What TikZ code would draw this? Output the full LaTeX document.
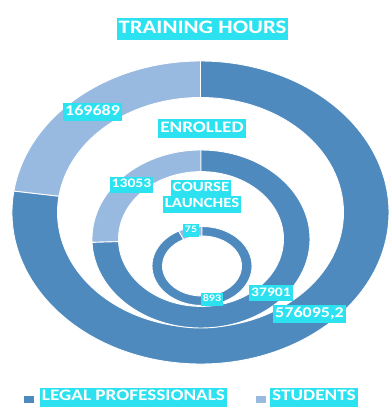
\documentclass[tikz,border=0pt]{standalone}
\usepackage{fontspec}
\newfontfamily\lab{Carlito}[FakeStretch=1.2]
\usetikzlibrary{calc}
\definecolor{darkseg}{RGB}{79,138,190}
\definecolor{lightseg}{RGB}{152,185,224}
\definecolor{labcyan}{RGB}{44,226,240}
\newcommand{\donutseg}[8]{%
  \filldraw[fill=#8, draw=white, line width=0.9pt]
    ($(#1)+(#2:#4pt and #5pt)$)
    arc[start angle=#2, end angle=#3, x radius=#4pt, y radius=#5pt]
    -- ($(#1)+(#3:#6pt and #7pt)$)
    arc[start angle=#3, end angle=#2, x radius=#6pt, y radius=#7pt]
    -- cycle;}
\tikzset{
  lbl/.style={fill=labcyan, text=white, inner xsep=2pt, inner ysep=1.5pt,
    font=\lab\bfseries\fontsize{#1}{#1}\selectfont},
  legsq/.style={fill=#1, minimum width=10pt, minimum height=7pt, inner sep=0pt}
}
\begin{document}
\begin{tikzpicture}[x=1pt,y=1pt]
\fill[white] (0,0) rectangle (391,416);
\useasboundingbox (0,0) rectangle (391,416);
\coordinate (oc) at (200.5,203.5);
\coordinate (mc) at (201,177);
\coordinate (ic) at (202,150);
% outer ring: training hours
\donutseg{oc}{90}{171.9}{188.5}{151.5}{143}{115}{lightseg}
\donutseg{oc}{171.9}{450}{188.5}{151.5}{143}{115}{darkseg}
% middle ring: enrolled
\donutseg{mc}{90}{182.2}{109}{89}{82.5}{67.4}{lightseg}
\donutseg{mc}{182.2}{450}{109}{89}{82.5}{67.4}{darkseg}
% inner ring: course launches
\donutseg{ic}{90}{117.9}{50}{39.5}{39.5}{30}{lightseg}
\donutseg{ic}{117.9}{450}{50}{39.5}{39.5}{30}{darkseg}
% titles
\node[lbl=19] (title) at (202.5,386.5) {\strut TRAINING HOURS};
\node[lbl=16] (enr) at (202,287) {\strut ENROLLED};
\node[lbl=14] (cl1) at (201,227.5) {\strut COURSE};
\node[lbl=14] (cl2) at (202,211.5) {\strut LAUNCHES};
% values
\node[lbl=15] (v1) at (92.5,303.5) {\strut 169689};
\node[lbl=15] (v2) at (309.5,102) {\strut 576095,2};
\node[lbl=13] (v3) at (131.5,231) {\strut 13053};
\node[lbl=13] (v4) at (271,122.5) {\strut 37901};
\node[lbl=10] (v5) at (191,185) {\strut 75};
\node[lbl=10] (v6) at (212,116) {\strut 893};
% legend
\node[legsq=darkseg] (sq1) at (29,16.5) {};
\node[lbl=16] (leg1) at (133.5,18.5) {\strut LEGAL PROFESSIONALS};
\node[legsq=lightseg] (sq2) at (260.5,16.5) {};
\node[lbl=16] (leg2) at (314,18.5) {\strut STUDENTS};
\end{tikzpicture}
\end{document}
